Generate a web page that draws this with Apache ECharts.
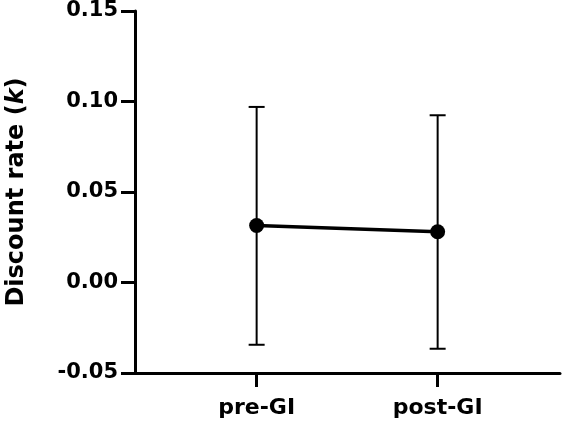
<!DOCTYPE html>
<html>
<head>
<meta charset="utf-8">
<script src="https://cdn.jsdelivr.net/npm/echarts@6/dist/echarts.min.js"></script>
<style>
  html, body { margin: 0; padding: 0; background: #fff; }
  #chart { width: 564px; height: 422px; }
</style>
</head>
<body>
<div id="chart"></div>
<script>
// data
const groups = ['pre-GI', 'post-GI']
const groupPos = [1, 2]
const meanK = [0.0315, 0.028]
const upperK = [0.097, 0.0924]
const lowerK = [-0.0344, -0.0366]

const chart = echarts.init(document.getElementById('chart'))
const font = '"DejaVu Sans", sans-serif'

const option = {
  animation: false,
  grid: { left: 135, right: 4, top: 11, bottom: 49, outerBoundsMode: 'none' },
  xAxis: {
    type: 'value',
    min: 0.328,
    max: 2.676,
    splitLine: { show: false },
    axisLine: { onZero: false, lineStyle: { color: '#000', width: 3 } },
    axisTick: { customValues: groupPos, length: 14, lineStyle: { color: '#000', width: 3 } },
    axisLabel: {
      customValues: groupPos,
      formatter: v => groups[groupPos.indexOf(v)] || '',
      color: '#000', fontWeight: 'bold', fontSize: 22, fontFamily: font, margin: 24
    }
  },
  yAxis: {
    type: 'value',
    min: -0.05,
    max: 0.15,
    interval: 0.05,
    splitLine: { show: false },
    axisLine: { show: true, lineStyle: { color: '#000', width: 3 } },
    axisTick: { show: true, length: 14, lineStyle: { color: '#000', width: 3 } },
    axisLabel: {
      formatter: v => v.toFixed(2),
      color: '#000', fontWeight: 'bold', fontSize: 21, fontFamily: font, margin: 17
    },
    name: '{a|Discount rate (}{b|k}{a|)}',
    nameLocation: 'middle',
    nameGap: 106,
    nameTextStyle: {
      rich: {
        a: { color: '#000', fontWeight: 'bold', fontSize: 24, fontFamily: font },
        b: { color: '#000', fontWeight: 'bold', fontStyle: 'italic', fontSize: 24, fontFamily: font }
      }
    }
  },
  series: [
    {
      type: 'custom',
      data: groupPos.map((x, i) => [x, lowerK[i], upperK[i]]),
      renderItem: (params, api) => {
        const lo = api.coord([api.value(0), api.value(1)])
        const hi = api.coord([api.value(0), api.value(2)])
        const cap = 8
        const style = { stroke: '#000', lineWidth: 2 }
        return {
          type: 'group',
          children: [
            { type: 'line', shape: { x1: hi[0], y1: hi[1], x2: lo[0], y2: lo[1] }, style },
            { type: 'line', shape: { x1: hi[0] - cap, y1: hi[1], x2: hi[0] + cap, y2: hi[1] }, style },
            { type: 'line', shape: { x1: lo[0] - cap, y1: lo[1], x2: lo[0] + cap, y2: lo[1] }, style }
          ]
        }
      },
      z: 1
    },
    {
      type: 'line',
      data: groupPos.map((x, i) => [x, meanK[i]]),
      symbol: 'circle',
      symbolSize: 15,
      itemStyle: { color: '#000' },
      lineStyle: { color: '#000', width: 3.5 },
      z: 2
    }
  ]
}

chart.setOption(option)
</script>
</body>
</html>
